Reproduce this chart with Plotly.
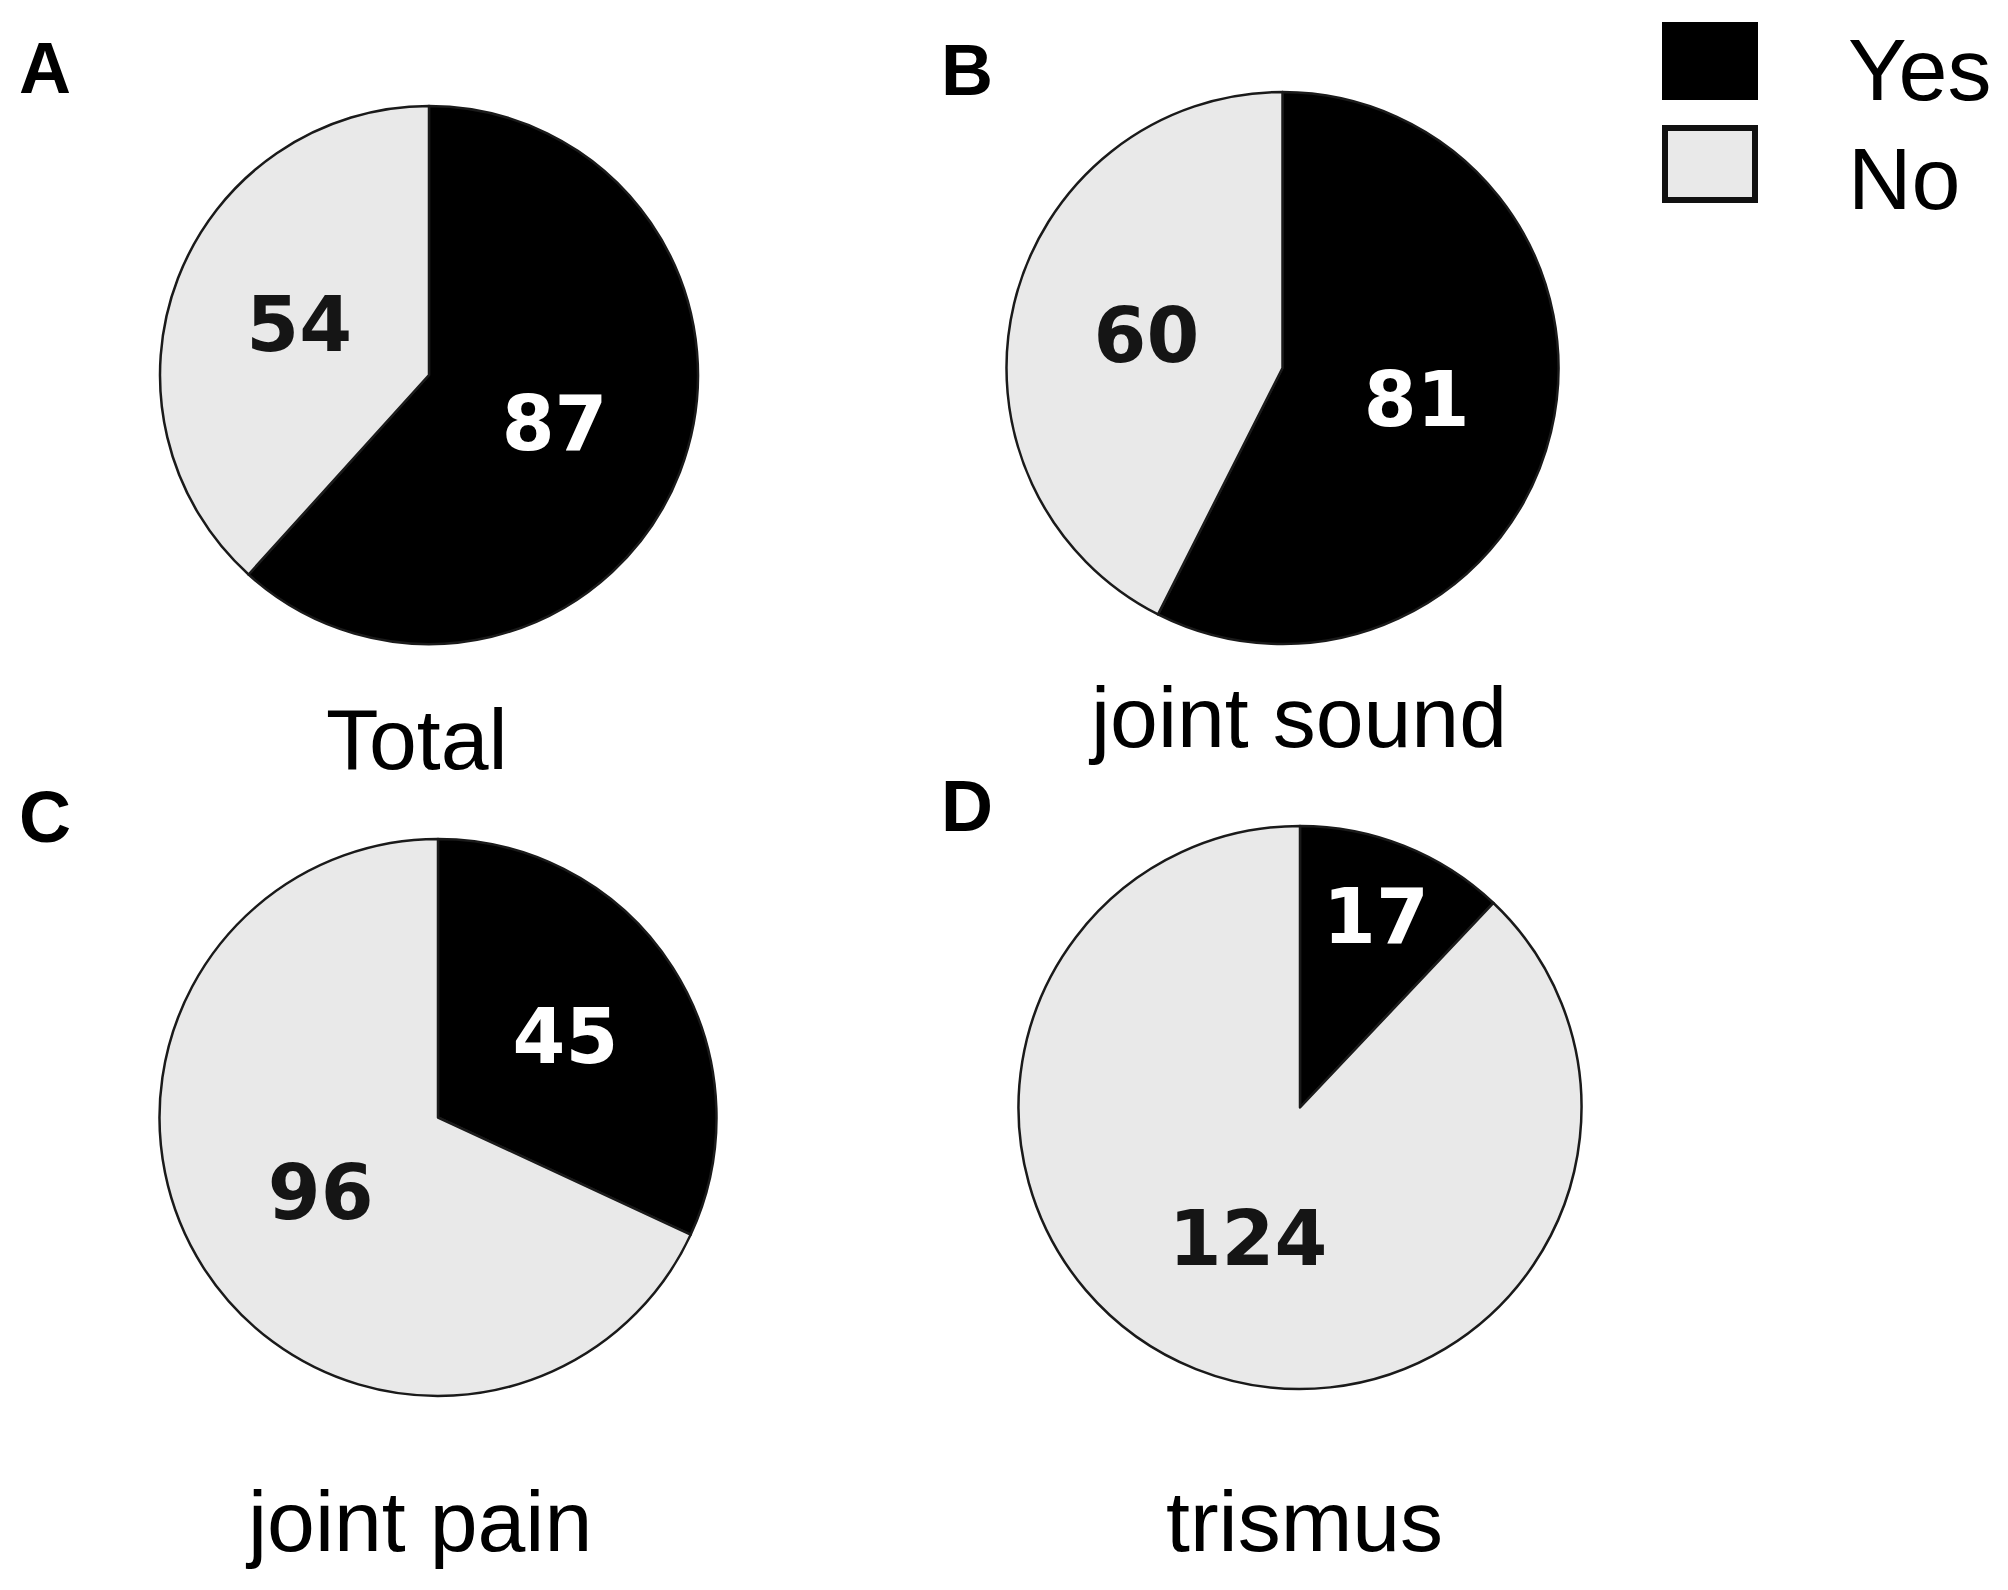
import plotly.graph_objects as go

# ---- data ----
panel_letters = ["A", "B", "C", "D"]
panel_titles = ["Total", "joint sound", "joint pain", "trismus"]
categories = ["Yes", "No"]
yes_counts = [87, 81, 45, 17]
no_counts = [54, 60, 96, 124]

# ---- styling / layout ----
PAGE_MARGIN = 8          # default body margin of the html page
W, H = 2000, 1582        # figure size so that page fits the 2008x1590 window
YES_COLOR = "#000000"
NO_COLOR = "#e9e9e9"
TEXT_FONT = "Liberation Sans, Arial, sans-serif"
NUM_FONT = "DejaVu Sans, Verdana, sans-serif"

def px_x(v):
    return (v - PAGE_MARGIN) / W

def px_y(v):
    return 1 - (v - PAGE_MARGIN) / H

# pie bounding boxes in window pixels: (left, right, top, bottom)
pie_boxes = [(160, 698, 106, 644), (1005, 1560, 92, 644),
             (156, 720, 839, 1396), (1018, 1582, 826, 1389)]
# title positions (center x, cap-center y)
title_pos = [(417, 739), (1297, 717), (418, 1521), (1304, 1521)]
letter_pos = [(45, 68), (967, 70), (45, 817), (967, 806)]

fig = go.Figure()
for i in range(4):
    l, r, t, b = pie_boxes[i]
    fig.add_trace(go.Pie(
        labels=categories,
        values=[yes_counts[i], no_counts[i]],
        text=[str(yes_counts[i]), str(no_counts[i])],
        textinfo="text",
        textposition="inside",
        insidetextorientation="horizontal",
        insidetextfont=dict(family=NUM_FONT, size=76, color=["#ffffff", "#151515"],
                            weight="bold"),
        sort=False,
        direction="clockwise",
        rotation=0,
        marker=dict(colors=[YES_COLOR, NO_COLOR], line=dict(color="#1a1a1a", width=2.5)),
        domain=dict(x=[px_x(l), px_x(r)], y=[px_y(b), px_y(t)]),
        hoverinfo="skip",
        showlegend=False,
    ))

annotations = []
for i in range(4):
    tx, ty = title_pos[i]
    annotations.append(dict(
        x=px_x(tx), y=px_y(ty), xref="paper", yref="paper",
        text=panel_titles[i], showarrow=False, xanchor="center", yanchor="middle",
        font=dict(family=TEXT_FONT, size=86, color="#000000"),
    ))
    lx, ly = letter_pos[i]
    annotations.append(dict(
        x=px_x(lx), y=px_y(ly), xref="paper", yref="paper",
        text="<b>%s</b>" % panel_letters[i], showarrow=False,
        xanchor="center", yanchor="middle",
        font=dict(family=TEXT_FONT, size=72, color="#000000"),
    ))

# legend (manual, large swatches)
legend_rows = [(61, 70), (164, 178)]  # swatch center y, text cap-center y
shapes = []
for k, cat in enumerate(categories):
    sy, ty = legend_rows[k]
    if cat == "Yes":
        shapes.append(dict(type="rect", xref="paper", yref="paper",
                           x0=px_x(1662), x1=px_x(1758), y0=px_y(sy + 39), y1=px_y(sy - 39),
                           fillcolor=YES_COLOR, line=dict(width=0)))
    else:
        shapes.append(dict(type="rect", xref="paper", yref="paper",
                           x0=px_x(1665), x1=px_x(1755), y0=px_y(sy + 36), y1=px_y(sy - 36),
                           fillcolor=NO_COLOR, line=dict(color="#111111", width=6)))
    annotations.append(dict(
        x=px_x(1846), y=px_y(ty), xref="paper", yref="paper",
        text=cat, showarrow=False, xanchor="left", yanchor="middle",
        font=dict(family=TEXT_FONT, size=88, color="#000000"),
    ))

fig.update_layout(
    width=W, height=H,
    margin=dict(l=0, r=0, t=0, b=0),
    paper_bgcolor="white", plot_bgcolor="white",
    annotations=annotations, shapes=shapes,
    uniformtext=dict(minsize=76, mode="show"),
    showlegend=False,
)

fig.write_html("out.html")
